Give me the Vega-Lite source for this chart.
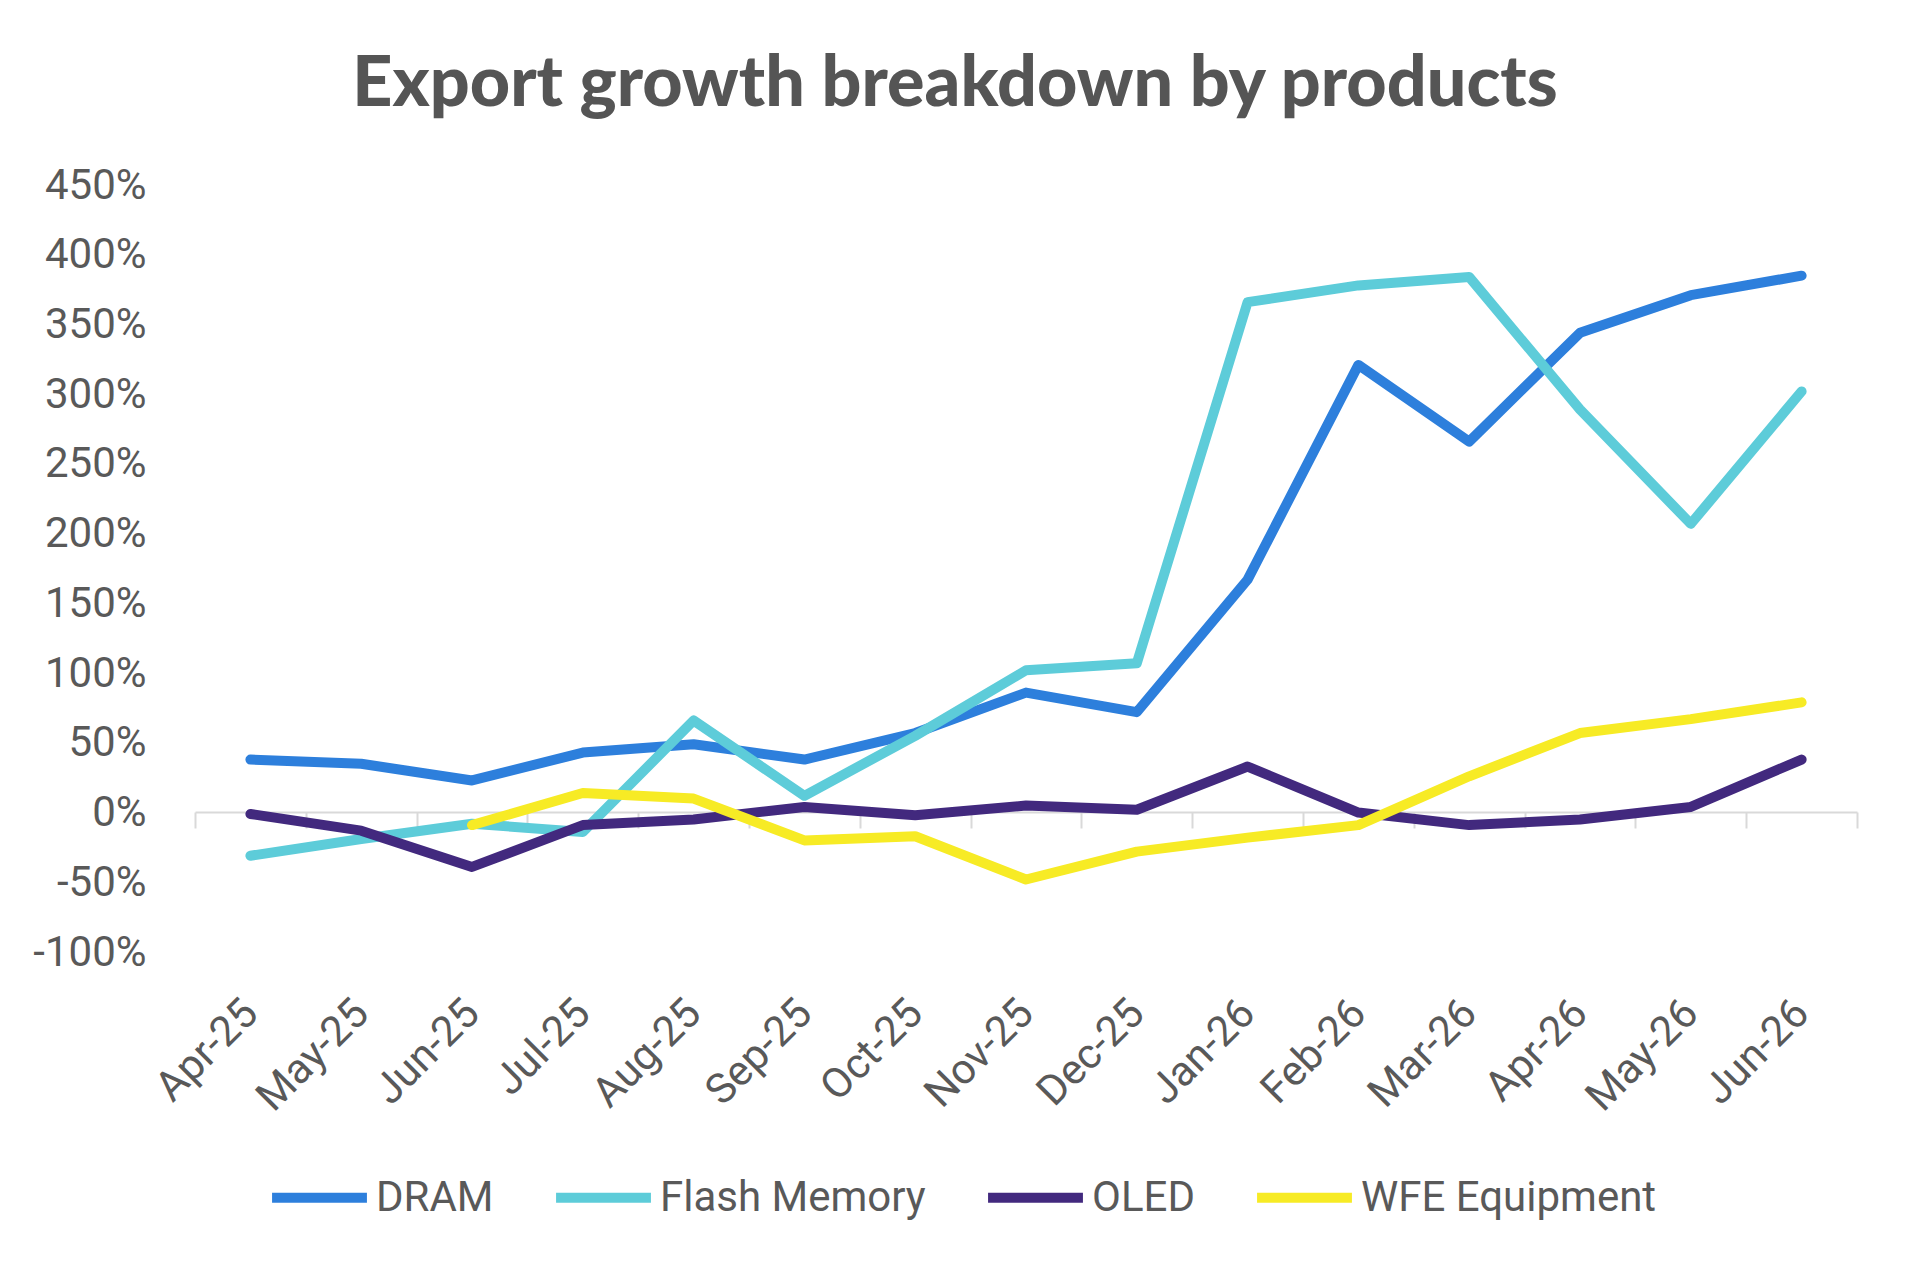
{
  "$schema": "https://vega.github.io/schema/vega-lite/v6.json",
  "width": 1662,
  "height": 767,
  "autosize": {"type": "none"},
  "padding": {"left": 195, "top": 185, "right": 52, "bottom": 317},
  "background": "white",
  "title": {
    "text": "Export growth breakdown by products",
    "font": "Lato",
    "fontSize": 70,
    "fontWeight": 900,
    "color": "#555555",
    "anchor": "middle",
    "frame": "group",
    "dx": -71,
    "offset": 43
  },
  "data": {
    "values": [
      {"month": "Apr-25", "product": "DRAM", "growth": 38},
      {"month": "May-25", "product": "DRAM", "growth": 35},
      {"month": "Jun-25", "product": "DRAM", "growth": 23},
      {"month": "Jul-25", "product": "DRAM", "growth": 43},
      {"month": "Aug-25", "product": "DRAM", "growth": 49},
      {"month": "Sep-25", "product": "DRAM", "growth": 38},
      {"month": "Oct-25", "product": "DRAM", "growth": 57},
      {"month": "Nov-25", "product": "DRAM", "growth": 86},
      {"month": "Dec-25", "product": "DRAM", "growth": 72},
      {"month": "Jan-26", "product": "DRAM", "growth": 167},
      {"month": "Feb-26", "product": "DRAM", "growth": 321},
      {"month": "Mar-26", "product": "DRAM", "growth": 266},
      {"month": "Apr-26", "product": "DRAM", "growth": 344},
      {"month": "May-26", "product": "DRAM", "growth": 371},
      {"month": "Jun-26", "product": "DRAM", "growth": 385},
      {"month": "Apr-25", "product": "Flash Memory", "growth": -31},
      {"month": "May-25", "product": "Flash Memory", "growth": -19},
      {"month": "Jun-25", "product": "Flash Memory", "growth": -8},
      {"month": "Jul-25", "product": "Flash Memory", "growth": -14},
      {"month": "Aug-25", "product": "Flash Memory", "growth": 66},
      {"month": "Sep-25", "product": "Flash Memory", "growth": 12},
      {"month": "Oct-25", "product": "Flash Memory", "growth": 55},
      {"month": "Nov-25", "product": "Flash Memory", "growth": 102},
      {"month": "Dec-25", "product": "Flash Memory", "growth": 107},
      {"month": "Jan-26", "product": "Flash Memory", "growth": 366},
      {"month": "Feb-26", "product": "Flash Memory", "growth": 378},
      {"month": "Mar-26", "product": "Flash Memory", "growth": 384},
      {"month": "Apr-26", "product": "Flash Memory", "growth": 289},
      {"month": "May-26", "product": "Flash Memory", "growth": 207},
      {"month": "Jun-26", "product": "Flash Memory", "growth": 302},
      {"month": "Apr-25", "product": "OLED", "growth": -1},
      {"month": "May-25", "product": "OLED", "growth": -13},
      {"month": "Jun-25", "product": "OLED", "growth": -39},
      {"month": "Jul-25", "product": "OLED", "growth": -9},
      {"month": "Aug-25", "product": "OLED", "growth": -5},
      {"month": "Sep-25", "product": "OLED", "growth": 4},
      {"month": "Oct-25", "product": "OLED", "growth": -2},
      {"month": "Nov-25", "product": "OLED", "growth": 5},
      {"month": "Dec-25", "product": "OLED", "growth": 2},
      {"month": "Jan-26", "product": "OLED", "growth": 33},
      {"month": "Feb-26", "product": "OLED", "growth": 0},
      {"month": "Mar-26", "product": "OLED", "growth": -9},
      {"month": "Apr-26", "product": "OLED", "growth": -5},
      {"month": "May-26", "product": "OLED", "growth": 4},
      {"month": "Jun-26", "product": "OLED", "growth": 38},
      {"month": "Jun-25", "product": "WFE Equipment", "growth": -9},
      {"month": "Jul-25", "product": "WFE Equipment", "growth": 14},
      {"month": "Aug-25", "product": "WFE Equipment", "growth": 10},
      {"month": "Sep-25", "product": "WFE Equipment", "growth": -20},
      {"month": "Oct-25", "product": "WFE Equipment", "growth": -17},
      {"month": "Nov-25", "product": "WFE Equipment", "growth": -48},
      {"month": "Dec-25", "product": "WFE Equipment", "growth": -28},
      {"month": "Jan-26", "product": "WFE Equipment", "growth": -18},
      {"month": "Feb-26", "product": "WFE Equipment", "growth": -9},
      {"month": "Mar-26", "product": "WFE Equipment", "growth": 26},
      {"month": "Apr-26", "product": "WFE Equipment", "growth": 57},
      {"month": "May-26", "product": "WFE Equipment", "growth": 67},
      {"month": "Jun-26", "product": "WFE Equipment", "growth": 79}
    ]
  },
  "mark": {"type": "line", "strokeWidth": 10, "strokeCap": "round", "strokeJoin": "round"},
  "encoding": {
    "x": {
      "field": "month",
      "type": "ordinal",
      "sort": ["Apr-25", "May-25", "Jun-25", "Jul-25", "Aug-25", "Sep-25", "Oct-25", "Nov-25", "Dec-25", "Jan-26", "Feb-26", "Mar-26", "Apr-26", "May-26", "Jun-26"],
      "bandPosition": 0.5,
      "scale": {"type": "band", "paddingInner": 0, "paddingOuter": 0},
      "axis": {
        "title": null,
        "orient": "bottom",
        "offset": -140,
        "grid": false,
        "domainColor": "#d9d9d9",
        "domainWidth": 2,
        "tickColor": "#d9d9d9",
        "tickWidth": 2,
        "tickSize": 16,
        "tickBand": "extent",
        "labelAngle": -45,
        "labelAlign": "right",
        "labelBaseline": "middle",
        "labelPadding": 178,
        "labelOverlap": false,
        "labelFont": "Roboto",
        "labelFontSize": 42,
        "labelColor": "#595959"
      }
    },
    "y": {
      "field": "growth",
      "type": "quantitative",
      "scale": {"domain": [-100, 450], "nice": false, "zero": false},
      "axis": {
        "title": null,
        "values": [-100, -50, 0, 50, 100, 150, 200, 250, 300, 350, 400, 450],
        "labelExpr": "datum.value + '%'",
        "domain": false,
        "ticks": false,
        "grid": false,
        "labelPadding": 49,
        "labelFont": "Roboto",
        "labelFontSize": 42,
        "labelColor": "#595959"
      }
    },
    "color": {
      "field": "product",
      "type": "nominal",
      "scale": {
        "domain": ["DRAM", "Flash Memory", "OLED", "WFE Equipment"],
        "range": ["#2D7FDC", "#5DCCD9", "#42297E", "#F7EB25"]
      },
      "legend": {
        "title": null,
        "orient": "none",
        "direction": "horizontal",
        "legendX": 72,
        "legendY": 960,
        "symbolType": "stroke",
        "symbolSize": 9000,
        "symbolStrokeWidth": 10,
        "labelOffset": 4,
        "columnPadding": 42,
        "labelLimit": 600,
        "labelFont": "Roboto",
        "labelFontSize": 42,
        "labelColor": "#595959"
      }
    }
  },
  "config": {"view": {"stroke": null}}
}
